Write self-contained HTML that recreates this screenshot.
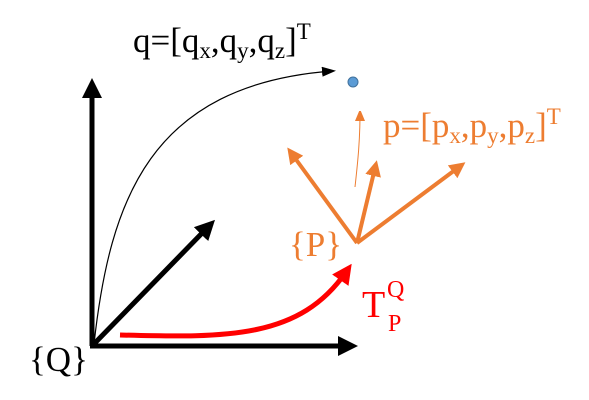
<!DOCTYPE html>
<html><head><meta charset="utf-8"><style>
html,body{margin:0;padding:0;background:#fff;}
text{font-family:"Liberation Serif","DejaVu Serif",serif;}
</style></head><body>
<svg width="589" height="400" viewBox="0 0 589 400" style="display:block">
<defs>
<marker id="ab" markerWidth="4" markerHeight="4" refX="2" refY="2" orient="auto" markerUnits="strokeWidth"><path d="M0,0 L4,2 L0,4 z" fill="#000"/></marker>
<marker id="ao" markerWidth="4" markerHeight="4" refX="2" refY="2" orient="auto" markerUnits="strokeWidth"><path d="M0,0 L4,2 L0,4 z" fill="#ed7d31"/></marker>
<marker id="ar" markerWidth="4" markerHeight="4" refX="2" refY="2" orient="auto" markerUnits="strokeWidth"><path d="M0,0 L4,2 L0,4 z" fill="#f00"/></marker>
<marker id="abt" markerWidth="14" markerHeight="10" refX="10" refY="5" orient="auto" markerUnits="userSpaceOnUse"><path d="M0,0 L14,5 L0,10 z" fill="#000"/></marker>
<marker id="aot" markerWidth="10" markerHeight="12" refX="8" refY="5" orient="auto" markerUnits="userSpaceOnUse"><path d="M0,0 L12,5 L0,10 z" fill="#ed7d31"/></marker>
</defs>
<g stroke="#000" stroke-width="5" fill="none">
<line x1="92" y1="346" x2="92" y2="88" marker-end="url(#ab)"/>
<line x1="90" y1="346" x2="348" y2="346" marker-end="url(#ab)"/>
<line x1="92" y1="346" x2="208" y2="227" marker-end="url(#ab)"/>
</g>
<path d="M94,344 C110,200 150,85 332,71" stroke="#000" stroke-width="1.2" fill="none" marker-end="url(#abt)"/>
<circle cx="353" cy="82" r="5" fill="#5b9bd5" stroke="#41719c" stroke-width="1"/>
<g stroke="#ed7d31" stroke-width="4" fill="none">
<line x1="357" y1="243" x2="292" y2="154" marker-end="url(#ao)"/>
<line x1="357" y1="243" x2="375" y2="168" marker-end="url(#ao)"/>
<line x1="357" y1="243" x2="459" y2="167" marker-end="url(#ao)"/>
</g>
<path d="M355,187 C358,160 360,140 360,113" stroke="#ed7d31" stroke-width="1" fill="none" marker-end="url(#aot)"/>
<path d="M120,335 C230,338 300,338 346,272" stroke="#f00" stroke-width="5" fill="none" marker-end="url(#ar)"/>
<text x="133" y="52" font-size="35" fill="#000">q=[q<tspan font-size="23" dy="6">x</tspan><tspan dy="-6">,q</tspan><tspan font-size="23" dy="6">y</tspan><tspan dy="-6">,q</tspan><tspan font-size="23" dy="6">z</tspan><tspan dy="-6">]</tspan><tspan font-size="23" dy="-13">T</tspan></text>
<text x="383" y="137" font-size="35" fill="#ed7d31">p=[p<tspan font-size="23" dy="6">x</tspan><tspan dy="-6">,p</tspan><tspan font-size="23" dy="6">y</tspan><tspan dy="-6">,p</tspan><tspan font-size="23" dy="6">z</tspan><tspan dy="-6">]</tspan><tspan font-size="23" dy="-13">T</tspan></text>
<text x="289" y="256" font-size="35" fill="#ed7d31">{P}</text>
<text x="29" y="371" font-size="35" fill="#000">{Q}</text>
<text x="362" y="317" font-size="38" fill="#f00">T</text>
<text x="387" y="297" font-size="24" fill="#f00">Q</text>
<text x="388" y="331" font-size="24" fill="#f00">P</text>
</svg>
</body></html>
